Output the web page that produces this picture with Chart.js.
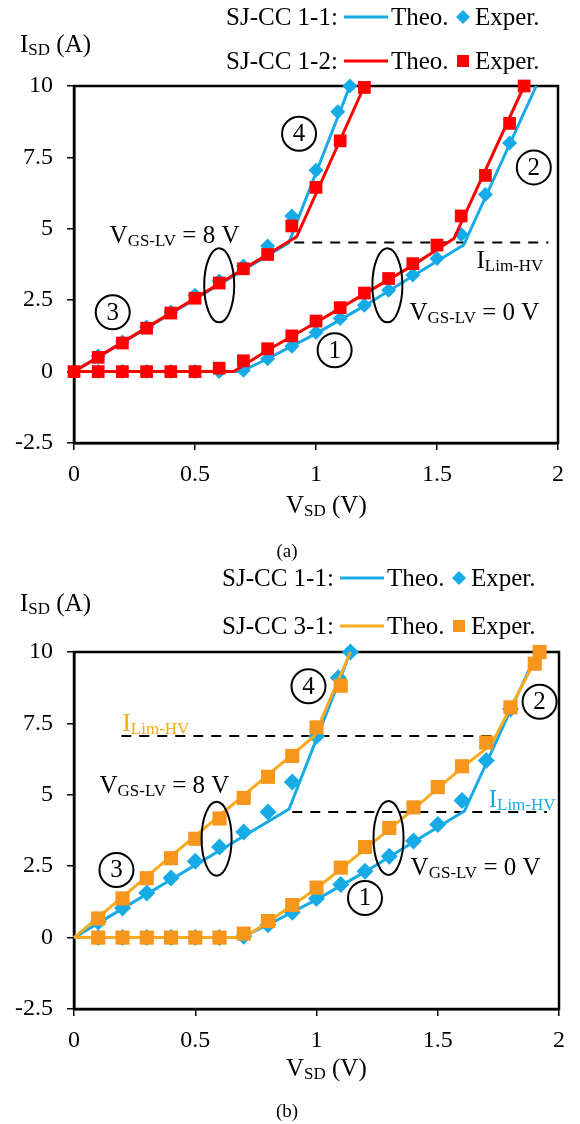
<!DOCTYPE html>
<html>
<head>
<meta charset="utf-8">
<script src="https://cdn.jsdelivr.net/npm/chart.js@4.4.0/dist/chart.umd.min.js"></script>
<style>
body { margin: 0; background: #fff; width: 580px; height: 1124px; overflow: hidden; }
.panel { position: absolute; left: 0; width: 580px; height: 562px; }
</style>
</head>
<body>
<div class="panel" style="top:0"><canvas id="chartA" width="580" height="562"></canvas></div>
<div class="panel" style="top:562px"><canvas id="chartB" width="580" height="562"></canvas></div>
<script>
// axis ticks
const xTickVals = [0, 0.5, 1, 1.5, 2];
const xTickLabels = ['0', '0.5', '1', '1.5', '2'];
const yTickVals = [-2.5, 0, 2.5, 5, 7.5, 10];
const yTickLabels = ['-2.5', '0', '2.5', '5', '7.5', '10'];

// SJ-CC 1-1 (blue) - VGS-LV = 8 V
const v11OnExp = [0.1, 0.2, 0.3, 0.4, 0.5, 0.6, 0.7, 0.8, 0.9, 1.0, 1.09, 1.14];
const i11OnExp = [0.55, 1.04, 1.56, 2.09, 2.67, 3.17, 3.7, 4.4, 5.45, 7.05, 9.1, 10];
const v11OnTheo = [0, 0.887, 1.14];
const i11OnTheo = [0, 4.5, 10];
// SJ-CC 1-1 (blue) - VGS-LV = 0 V
const v11OffExp = [0.1, 0.2, 0.3, 0.4, 0.5, 0.6, 0.7, 0.8, 0.9, 1.0, 1.1, 1.2, 1.3, 1.4, 1.5, 1.6, 1.7, 1.8];
const i11OffExp = [0, 0, 0, 0, 0, 0, 0.05, 0.45, 0.89, 1.37, 1.86, 2.32, 2.85, 3.38, 3.96, 4.8, 6.2, 8.0];
const v11OffTheo = [0, 0.69, 0.8, 1.0, 1.2, 1.4, 1.61, 1.91];
const i11OffTheo = [0, 0, 0.45, 1.33, 2.3, 3.35, 4.43, 10];

// SJ-CC 1-2 (red)
const v12OnExp = [0, 0.1, 0.2, 0.3, 0.4, 0.5, 0.6, 0.7, 0.8, 0.9, 1.0, 1.1, 1.2];
const i12OnExp = [0, 0.5, 1.0, 1.52, 2.05, 2.57, 3.1, 3.6, 4.1, 5.1, 6.45, 8.08, 9.95];
const v12OnTheo = [0, 0.92, 1.2];
const i12OnTheo = [0, 4.72, 10];
const v12OffExp = [0.1, 0.2, 0.3, 0.4, 0.5, 0.6, 0.7, 0.8, 0.9, 1.0, 1.1, 1.2, 1.3, 1.4, 1.5, 1.6, 1.7, 1.8, 1.86];
const i12OffExp = [0, 0, 0, 0, 0, 0.12, 0.38, 0.8, 1.25, 1.77, 2.24, 2.75, 3.26, 3.78, 4.43, 5.45, 6.87, 8.69, 10];
const v12OffTheo = [0, 0.66, 0.8, 1.0, 1.2, 1.4, 1.57, 1.86];
const i12OffTheo = [0, 0, 0.75, 1.72, 2.72, 3.72, 4.66, 10];

// SJ-CC 3-1 (orange)
const v31OnExp = [0.1, 0.2, 0.3, 0.4, 0.5, 0.6, 0.7, 0.8, 0.9, 1.0, 1.1];
const i31OnExp = [0.67, 1.37, 2.08, 2.78, 3.46, 4.17, 4.89, 5.63, 6.36, 7.36, 8.82];
const v31OnTheo = [0, 0.99, 1.14];
const i31OnTheo = [0, 7.05, 10];
const v31OffExp = [0.1, 0.2, 0.3, 0.4, 0.5, 0.6, 0.7, 0.8, 0.9, 1.0, 1.1, 1.2, 1.3, 1.4, 1.5, 1.6, 1.7, 1.8, 1.9, 1.92];
const i31OffExp = [0, 0, 0, 0, 0, 0, 0.14, 0.58, 1.14, 1.75, 2.45, 3.17, 3.84, 4.56, 5.27, 6.0, 6.83, 8.06, 9.59, 10];
const v31OffTheo = [0, 0.7, 0.8, 1.0, 1.2, 1.4, 1.6, 1.72, 1.92];
const i31OffTheo = [0, 0, 0.55, 1.72, 3.1, 4.5, 5.95, 6.75, 10];

// I_Lim-HV dashed levels
const limVa = [0.91, 1.96], limIa = [4.52, 4.52];
const limVb1 = [0.195, 1.735], limIb1 = [7.06, 7.06];
const limVb2 = [0.9, 1.95], limIb2 = [4.4, 4.4];

const BLUE = '#16ABE6', RED = '#FF0000', ORANGE = '#F7961C', GOLD = '#FAAA1E';
const FONT = '"Liberation Serif", "Times New Roman", serif';

Chart.defaults.font.family = FONT;
Chart.defaults.color = '#000';

function pts(xs, ys) {
    return xs.map((x, i) => ({x: x, y: ys[i]}));
}

function theo(xs, ys, color, order) {
    return {data: pts(xs, ys), showLine: true, borderColor: color, borderWidth: 3,
        pointRadius: 0, pointHoverRadius: 0, clip: false, order: order};
}

function exper(xs, ys, color, style, r, order) {
    return {data: pts(xs, ys), showLine: false, pointStyle: style, pointRadius: r,
        pointHoverRadius: r, backgroundColor: color, borderColor: color, pointBorderWidth: 0,
        clip: false, order: order};
}

function dashed(xs, ys) {
    return {data: pts(xs, ys), showLine: true, borderColor: '#000', borderWidth: 2,
        borderDash: [10, 8], pointRadius: 0, pointHoverRadius: 0, clip: false, order: 9};
}

// text with subscripts: parts = [text, size, dy]
function richText(ctx, x, y, parts, color) {
    ctx.save();
    ctx.fillStyle = color || '#000';
    ctx.textAlign = 'left';
    ctx.textBaseline = 'alphabetic';
    parts.forEach(p => {
        ctx.font = p[1] + 'px ' + FONT;
        ctx.fillText(p[0], x, y + (p[2] || 0));
        x += ctx.measureText(p[0]).width;
    });
    ctx.restore();
}

function marker(ctx, style, x, y, r, color) {
    ctx.save();
    ctx.fillStyle = color;
    ctx.beginPath();
    if (style === 'rectRot') {
        ctx.moveTo(x, y - r); ctx.lineTo(x + r, y); ctx.lineTo(x, y + r); ctx.lineTo(x - r, y);
    } else {
        ctx.rect(x - r, y - r, 2 * r, 2 * r);
    }
    ctx.closePath();
    ctx.fill();
    ctx.restore();
}

const figPlugin = {
    id: 'fig',
    beforeDatasetsDraw(chart, args, opts) {
        const a = chart.chartArea, ctx = chart.ctx;
        ctx.save();
        ctx.strokeStyle = '#000';
        ctx.lineWidth = 2.5;
        ctx.strokeRect(a.left, a.top, a.right - a.left, a.bottom - a.top);
        ctx.restore();
    },
    afterDraw(chart, args, opts) {
        const ctx = chart.ctx, sx = chart.scales.x, sy = chart.scales.y;

        // legend rows
        opts.legend.forEach(r => {
            richText(ctx, r.x, r.y, [[r.name, 25]]);
            ctx.save();
            ctx.strokeStyle = r.line;
            ctx.lineWidth = 3;
            ctx.beginPath();
            ctx.moveTo(r.x + 118, r.y - 8);
            ctx.lineTo(r.x + 162, r.y - 8);
            ctx.stroke();
            ctx.restore();
            richText(ctx, r.x + 165, r.y, [['Theo.', 25]]);
            marker(ctx, r.style, r.x + 237, r.y - 8, r.style === 'rect' ? 6 : 7, r.mark);
            richText(ctx, r.x + 249, r.y, [['Exper.', 25]]);
        });

        // axis titles and caption
        richText(ctx, opts.yTitle[0], opts.yTitle[1], [['I', 25], ['SD', 17, 3], [' (A)', 25]]);
        richText(ctx, opts.xTitle[0], opts.xTitle[1], [['V', 25], ['SD', 17, 3], [' (V)', 25]]);
        ctx.save();
        ctx.font = '19px ' + FONT;
        ctx.fillStyle = '#000';
        ctx.textAlign = 'center';
        ctx.fillText(opts.caption[0], opts.caption[1], opts.caption[2]);
        ctx.restore();

        // annotations placed in data units
        opts.notes.forEach(n => {
            const px = sx.getPixelForValue(n.x), py = sy.getPixelForValue(n.y);
            ctx.save();
            ctx.strokeStyle = '#000';
            ctx.lineWidth = 2;
            if (n.type === 'num') {
                ctx.beginPath();
                ctx.arc(px, py, 17, 0, Math.PI * 2);
                ctx.stroke();
                ctx.font = '25px ' + FONT;
                ctx.fillStyle = '#000';
                ctx.textAlign = 'center';
                ctx.textBaseline = 'middle';
                ctx.fillText(n.text, px, py + 1);
            } else if (n.type === 'ellipse') {
                ctx.beginPath();
                ctx.ellipse(px, py, 15, 37, 0, 0, Math.PI * 2);
                ctx.stroke();
            } else {
                richText(ctx, px, py, n.parts, n.color);
            }
            ctx.restore();
        });
    }
};

function makeScales(xHeight) {
    return {
        x: {
            type: 'linear', min: 0, max: 2,
            afterBuildTicks: s => { s.ticks = xTickVals.map(v => ({value: v})); },
            afterFit: s => { s.height = xHeight; },
            ticks: {font: {size: 24}, color: '#000', padding: 10, maxRotation: 0,
                callback: v => xTickLabels[xTickVals.indexOf(v)]},
            grid: {drawOnChartArea: false, drawTicks: true, tickLength: 7, color: '#000', lineWidth: 1.5},
            border: {display: true, color: '#000', width: 2.5}
        },
        y: {
            type: 'linear', min: -2.5, max: 10,
            afterBuildTicks: s => { s.ticks = yTickVals.map(v => ({value: v})); },
            afterFit: s => { s.width = 74; },
            ticks: {font: {size: 24}, color: '#000', padding: 14,
                callback: v => yTickLabels[yTickVals.indexOf(v)]},
            grid: {drawOnChartArea: false, drawTicks: true, tickLength: 7, color: '#000', lineWidth: 1.5},
            border: {display: true, color: '#000', width: 2.5}
        }
    };
}

const SUB_8V = [['V', 25], ['GS-LV', 17, 3], [' = 8 V', 25]];
const SUB_0V = [['V', 25], ['GS-LV', 17, 3], [' = 0 V', 25]];
const SUB_LIM = [['I', 25], ['Lim-HV', 17, 3]];

// panel (a)
new Chart(document.getElementById('chartA'), {
    type: 'scatter',
    data: {
        datasets: [
            exper(v12OnExp, i12OnExp, RED, 'rect', 9, 1),
            exper(v12OffExp, i12OffExp, RED, 'rect', 9, 1),
            theo(v12OnTheo, i12OnTheo, RED, 2),
            theo(v12OffTheo, i12OffTheo, RED, 2),
            exper(v11OnExp, i11OnExp, BLUE, 'rectRot', 7.5, 3),
            exper(v11OffExp, i11OffExp, BLUE, 'rectRot', 7.5, 3),
            theo(v11OnTheo, i11OnTheo, BLUE, 4),
            theo(v11OffTheo, i11OffTheo, BLUE, 4),
            dashed(limVa, limIa)
        ]
    },
    options: {
        responsive: false, animation: false, devicePixelRatio: 1,
        layout: {padding: {top: 86, right: 22, left: 0, bottom: 0}},
        scales: makeScales(119),
        plugins: {
            legend: {display: false}, tooltip: {enabled: false},
            fig: {
                legend: [
                    {x: 226, y: 25, name: 'SJ-CC 1-1:', line: BLUE, mark: BLUE, style: 'rectRot'},
                    {x: 226, y: 69, name: 'SJ-CC 1-2:', line: RED, mark: RED, style: 'rect'}
                ],
                yTitle: [20, 52], xTitle: [286, 513], caption: ['(a)', 287, 557],
                notes: [
                    {type: 'num', text: '3', x: 0.16, y: 2.08},
                    {type: 'num', text: '4', x: 0.93, y: 8.33},
                    {type: 'num', text: '1', x: 1.077, y: 0.75},
                    {type: 'num', text: '2', x: 1.9, y: 7.15},
                    {type: 'ellipse', x: 0.6, y: 3.02},
                    {type: 'ellipse', x: 1.295, y: 3.02},
                    {type: 'text', x: 0.147, y: 4.49, parts: SUB_8V},
                    {type: 'text', x: 1.663, y: 3.62, parts: SUB_LIM},
                    {type: 'text', x: 1.386, y: 1.8, parts: SUB_0V}
                ]
            }
        }
    },
    plugins: [figPlugin]
});

// panel (b)
new Chart(document.getElementById('chartB'), {
    type: 'scatter',
    data: {
        datasets: [
            exper(v31OnExp, i31OnExp, ORANGE, 'rect', 10, 1),
            exper(v31OffExp, i31OffExp, ORANGE, 'rect', 10, 1),
            theo(v31OnTheo, i31OnTheo, GOLD, 2),
            theo(v31OffTheo, i31OffTheo, GOLD, 2),
            exper(v11OnExp, i11OnExp, BLUE, 'rectRot', 8.5, 3),
            exper(v11OffExp, i11OffExp, BLUE, 'rectRot', 8.5, 3),
            theo(v11OnTheo, i11OnTheo, BLUE, 4),
            theo(v11OffTheo, i11OffTheo, BLUE, 4),
            dashed(limVb1, limIb1),
            dashed(limVb2, limIb2)
        ]
    },
    options: {
        responsive: false, animation: false, devicePixelRatio: 1,
        layout: {padding: {top: 90, right: 21, left: 0, bottom: 0}},
        scales: makeScales(115),
        plugins: {
            legend: {display: false}, tooltip: {enabled: false},
            fig: {
                legend: [
                    {x: 222, y: 24, name: 'SJ-CC 1-1:', line: BLUE, mark: BLUE, style: 'rectRot'},
                    {x: 222, y: 72, name: 'SJ-CC 3-1:', line: GOLD, mark: ORANGE, style: 'rect'}
                ],
                yTitle: [20, 49], xTitle: [286, 514], caption: ['(b)', 287, 555],
                notes: [
                    {type: 'num', text: '3', x: 0.175, y: 2.37},
                    {type: 'num', text: '4', x: 0.967, y: 8.8},
                    {type: 'num', text: '2', x: 1.92, y: 8.26},
                    {type: 'num', text: '1', x: 1.2, y: 1.39},
                    {type: 'ellipse', x: 0.588, y: 3.46},
                    {type: 'ellipse', x: 1.297, y: 3.49},
                    {type: 'text', x: 0.2, y: 7.25, parts: SUB_LIM, color: '#F5AA14'},
                    {type: 'text', x: 0.105, y: 5.07, parts: SUB_8V},
                    {type: 'text', x: 1.71, y: 4.58, parts: SUB_LIM, color: BLUE},
                    {type: 'text', x: 1.388, y: 2.19, parts: SUB_0V}
                ]
            }
        }
    },
    plugins: [figPlugin]
});
</script>
</body>
</html>
